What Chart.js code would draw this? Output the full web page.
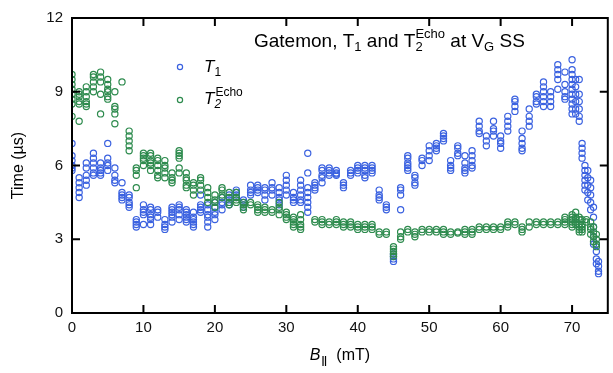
<!DOCTYPE html>
<html>
<head>
<meta charset="utf-8">
<script src="https://cdn.jsdelivr.net/npm/chart.js@4.4.1/dist/chart.umd.min.js"></script>
<style>
  html, body { margin: 0; padding: 0; background: #fff; }
  #wrap { width: 613px; height: 373px; }
</style>
</head>
<body>
<div id="wrap"><canvas id="chart" width="613" height="373"></canvas></div>
<script>
// B_parallel field steps (mT) and the repeated T1 readings at each step (us)
const t1Field = [0, 1, 2, 3, 4, 5, 6, 7, 8, 9, 10, 11, 12, 13, 14, 15, 16, 17, 18, 19,
  20, 21, 22, 23, 24, 25, 26, 27, 28, 29, 30, 31, 32, 33, 34, 35, 36, 37, 38, 39,
  40, 41, 42, 43, 44, 45, 46, 47, 48, 49, 50, 51, 52, 53, 54, 55, 56, 57, 58, 59,
  60, 61, 62, 63, 64, 65, 66, 67, 68, 69, 70, 70.5, 71, 71.4, 71.8, 72.2, 72.6, 73, 73.4, 73.7];
const t1Time = [
  [6.9, 6.4, 6.2, 6.0, 5.9, 5.8], [5.5, 5.3, 5.1, 4.9, 4.7], [6.1, 5.9, 5.6, 5.4, 5.2],
  [6.5, 6.3, 6.1, 5.9, 5.7, 5.6], [6.1, 5.9, 5.8, 5.7, 5.6], [6.9, 6.3, 6.1, 6.0, 5.8],
  [5.9, 5.6, 5.4, 5.3], [5.3, 4.9, 4.8, 4.7, 4.6], [4.8, 4.7, 4.5, 4.4, 4.3],
  [3.8, 3.7, 3.6, 3.5], [4.4, 4.2, 4.1, 4.0, 3.6], [4.3, 4.2, 4.0, 3.9, 3.8, 3.6],
  [4.2, 4.1, 3.9], [3.8, 3.6, 3.5, 3.4], [4.3, 4.2, 4.1, 4.0, 3.9, 3.7],
  [4.4, 4.3, 4.2, 4.0, 3.8], [4.2, 4.1, 4.0, 3.9, 3.8, 3.7], [4.1, 3.9, 3.8, 3.7, 3.6, 3.5],
  [4.8, 4.4, 4.3, 4.2, 4.1], [4.4, 4.2, 4.0, 3.9, 3.7, 3.5], [4.5, 4.3, 4.1, 4.0, 3.8],
  [4.7, 4.5, 4.4, 4.2], [4.8, 4.6, 4.5, 4.4], [5.0, 4.9, 4.8, 4.7],
  [4.6, 4.5, 4.4, 4.3], [5.2, 5.0, 4.9, 4.8], [5.2, 5.1, 5.0, 4.9],
  [5.1, 5.0, 4.8, 4.6], [5.3, 5.1, 5.0, 4.8], [5.1, 4.9, 4.7, 4.6, 4.4],
  [5.6, 5.4, 5.2, 5.0, 4.8], [4.9, 4.7, 4.6, 4.5], [5.4, 5.2, 5.0, 4.8, 4.6, 4.5],
  [6.5, 5.7, 5.1, 4.9, 4.7, 4.5, 4.3, 4.1], [5.3, 5.2, 5.1, 5.0], [5.9, 5.8, 5.6, 5.5, 5.3],
  [5.9, 5.8, 5.7, 5.6], [5.8, 5.7, 5.65, 5.6], [5.3, 5.2, 5.1],
  [5.8, 5.7, 5.6], [6.0, 5.9, 5.8, 5.7], [6.0, 5.9, 5.8, 5.6, 5.5],
  [6.0, 5.9, 5.8, 5.7], [5.0, 4.8, 4.7, 4.6], [4.4, 4.3, 4.2],
  [2.4, 2.3, 2.2, 2.1], [5.1, 5.0, 4.8, 4.2], [6.4, 6.3, 6.1, 6.0, 5.9, 5.8],
  [5.6, 5.5, 5.3, 5.2], [6.3, 6.2, 6.0], [6.8, 6.6, 6.4, 6.2],
  [6.9, 6.8, 6.7, 6.6], [7.3, 7.2, 7.1, 7.0], [6.2, 6.0, 5.9, 5.8],
  [6.8, 6.7, 6.5, 6.4], [6.4, 6.1, 5.9, 5.8, 5.7], [6.6, 6.4, 6.2, 6.0, 5.9],
  [7.8, 7.6, 7.4, 7.3], [7.2, 7.0, 6.8], [7.8, 7.5, 7.4, 7.2],
  [7.2, 7.0, 6.9, 6.7], [8.0, 7.8, 7.6, 7.4], [8.7, 8.6, 8.4, 8.2],
  [7.4, 7.1, 6.9, 6.7, 6.6], [8.3, 8.0, 7.8, 7.6], [8.9, 8.8, 8.6, 8.5],
  [9.4, 9.2, 9.0, 8.8, 8.6, 8.4], [9.0, 8.8, 8.6, 8.4], [10.1, 9.9, 9.7, 9.5, 9.1],
  [9.8, 9.3, 9.0, 8.8, 8.7], [10.3, 9.9, 9.7, 9.5, 9.3, 9.1, 8.9, 8.7, 8.5, 8.3, 8.1],
  [9.5, 9.2, 8.9, 8.6, 8.3, 8.1], [9.5, 8.9, 8.6, 8.3, 8.0, 7.8], [6.9, 6.7, 6.5, 6.3],
  [6.0, 5.8, 5.6, 5.4, 5.2, 5.0], [5.8, 5.5, 5.2, 4.9, 4.6], [5.4, 5.1, 4.8, 4.5, 4.2],
  [4.3, 3.9, 3.5, 3.1, 2.8], [2.8, 2.5, 2.2, 2.0], [2.1, 1.9, 1.7, 1.6]
];

// T2 echo readings (us)
const t2Field = [0, 1, 2, 3, 4, 5, 6, 7, 8, 9, 10, 11, 12, 13, 14, 15, 16, 17, 18, 19,
  20, 21, 22, 23, 24, 25, 26, 27, 28, 29, 30, 31, 32, 34, 35, 36, 37, 38, 39,
  40, 41, 42, 43, 44, 45, 46, 47, 48, 49, 50, 51, 52, 53, 54, 55, 56, 57, 58, 59,
  60, 61, 62, 63, 64, 65, 66, 67, 68, 69, 70, 70.5, 71, 71.4, 72, 72.6, 73, 73.4];
const t2Time = [
  [9.7, 9.5, 9.3, 9.1, 8.9, 8.7, 8.5, 8.0], [9.0, 8.9, 8.8, 8.6, 8.5, 7.8], [9.2, 9.0, 8.8, 8.6, 8.5, 8.4],
  [9.7, 9.6, 9.4, 9.2, 9.0], [9.8, 9.6, 9.4, 8.9, 8.1], [9.5, 9.3, 9.1, 9.0, 8.8, 8.7],
  [9.0, 8.4, 8.3, 8.1, 7.7], [9.4], [7.4, 7.2, 7.0, 6.8, 6.6],
  [5.9, 5.8, 5.6, 5.1], [6.5, 6.4, 6.3, 6.2, 6.0], [6.5, 6.4, 6.2, 6.1, 6.0, 5.8],
  [6.3, 6.2, 6.0, 5.8, 5.6, 5.5], [6.2, 6.0, 5.9, 5.7, 5.5], [5.7, 5.5, 5.4, 5.3],
  [6.6, 6.5, 6.4, 6.3, 5.9, 5.7], [5.7, 5.5, 5.4, 5.2, 5.1], [5.3, 5.2, 5.0, 4.8],
  [5.5, 5.4, 5.2, 5.0], [5.1, 4.9, 4.7, 4.5], [4.8, 4.6, 4.5, 4.3],
  [5.1, 5.0, 4.8, 4.7], [4.9, 4.7, 4.5, 4.4], [4.9, 4.7, 4.6, 4.5],
  [4.5, 4.4, 4.3, 4.2], [4.5, 4.4], [4.4, 4.3, 4.2, 4.1],
  [4.3, 4.2, 4.1], [4.2, 4.1], [4.5, 4.3, 4.2, 4.0],
  [4.1, 4.0, 3.9, 3.8], [3.9, 3.8, 3.7, 3.6, 3.5], [4.0, 3.8, 3.6, 3.5, 3.4],
  [3.8, 3.7], [3.8, 3.7, 3.6], [3.7, 3.6], [3.8, 3.7, 3.6], [3.7, 3.6, 3.5], [3.7, 3.6, 3.5],
  [3.6, 3.5, 3.4], [3.6, 3.5, 3.4], [3.6, 3.5, 3.4], [3.3, 3.2], [3.3, 3.2],
  [2.7, 2.6, 2.5, 2.4, 2.3], [3.3, 3.1, 3.0], [3.4, 3.3], [3.3, 3.2, 3.1], [3.4, 3.3],
  [3.4, 3.3], [3.4, 3.3], [3.4, 3.3, 3.2], [3.3, 3.2], [3.3, 3.25],
  [3.4, 3.3, 3.2], [3.4, 3.3, 3.2], [3.5, 3.4], [3.5, 3.4], [3.5, 3.4],
  [3.5, 3.4], [3.7, 3.6, 3.5], [3.7, 3.6], [3.5, 3.4, 3.3], [3.7, 3.5],
  [3.7, 3.6], [3.7, 3.6], [3.7, 3.6], [3.7, 3.6], [3.9, 3.8, 3.7, 3.6],
  [4.0, 3.9, 3.8, 3.7, 3.6, 3.5], [4.1, 3.9, 3.8, 3.7, 3.6], [3.9, 3.8, 3.6, 3.5, 3.4, 3.3],
  [3.8, 3.6, 3.5, 3.4, 3.3], [3.8, 3.7], [3.7, 3.5, 3.4, 3.2], [3.5, 3.3, 3.1, 2.9],
  [3.2, 3.0, 2.8, 2.7]
];

const xTicksMax = 75;
const yTicks = [0, 3, 6, 9, 12];

const BLUE = "#3b62e0";
const GREEN = "#2e8b4e";
const FONT = "'Liberation Sans', Arial, sans-serif";

function toPoints(fields, times) {
  const out = [];
  fields.forEach((b, i) => {
    (times[i] || []).forEach((t) => out.push({ x: b, y: t }));
  });
  return out;
}

// frame box with inward ticks on all four sides
const framePlugin = {
  id: "frame",
  afterDatasetsDraw(chart) {
    const { ctx, chartArea: a, scales } = chart;
    const len = 8;
    ctx.save();
    ctx.strokeStyle = "#000";
    ctx.lineWidth = 2;
    ctx.strokeRect(a.left, a.top, a.right - a.left, a.bottom - a.top);
    ctx.beginPath();
    scales.x.ticks.forEach((t) => {
      const px = scales.x.getPixelForValue(t.value);
      ctx.moveTo(px, a.bottom);
      ctx.lineTo(px, a.bottom - len);
      ctx.moveTo(px, a.top);
      ctx.lineTo(px, a.top + len);
    });
    scales.y.ticks.forEach((t) => {
      const py = scales.y.getPixelForValue(t.value);
      ctx.moveTo(a.left, py);
      ctx.lineTo(a.left + len, py);
      ctx.moveTo(a.right, py);
      ctx.lineTo(a.right - len, py);
    });
    ctx.stroke();
    ctx.restore();
  },
};

// title, legend and x-axis title (need sub/superscripts)
const textPlugin = {
  id: "texts",
  afterDraw(chart) {
    const { ctx, chartArea: a } = chart;
    ctx.save();
    ctx.fillStyle = "#000";
    ctx.textBaseline = "alphabetic";
    ctx.textAlign = "left";

    function put(str, x, y, font) {
      ctx.font = font;
      ctx.fillText(str, x, y);
      return x + ctx.measureText(str).width;
    }

    // title
    const big = "19px " + FONT;
    const small = "13px " + FONT;
    let x = 254, y = 47;
    x = put("Gatemon, T", x, y, big);
    x = put("1", x, y + 4, small);
    x = put(" and T", x, y, big);
    const xs = x;
    put("2", xs, y + 4, small);
    x = put("Echo", xs, y - 9, small);
    x = put(" at V", x, y, big);
    x = put("G", x, y + 4, small);
    put(" SS", x, y, big);

    // legend
    const it = "italic 17px " + FONT;
    const sm = "12px " + FONT;
    ctx.lineWidth = 1.2;
    ctx.strokeStyle = BLUE;
    ctx.beginPath();
    ctx.arc(180, 67, 2.6, 0, Math.PI * 2);
    ctx.stroke();
    ctx.strokeStyle = GREEN;
    ctx.beginPath();
    ctx.arc(180, 100, 2.6, 0, Math.PI * 2);
    ctx.stroke();
    x = put("T", 204, 72, it);
    put("1", x, 76, sm);
    x = put("T", 204, 104, it);
    put("2", x, 108, "italic 12px " + FONT);
    put("Echo", x + 1, 96, sm);

    // x axis title
    const cx = (a.left + a.right) / 2;
    ctx.font = "italic 16px " + FONT;
    const wB = ctx.measureText("B").width;
    ctx.font = "16px " + FONT;
    const wR = ctx.measureText("  (mT)").width;
    const total = wB + 7 + wR;
    let xx = cx - total / 2;
    const by = 360;
    xx = put("B", xx, by, "italic 16px " + FONT);
    ctx.fillRect(xx + 2, by - 4, 1.2, 10);
    ctx.fillRect(xx + 4.5, by - 4, 1.2, 10);
    put("  (mT)", xx + 7, by, "16px " + FONT);
    ctx.restore();
  },
};

new Chart(document.getElementById("chart"), {
  type: "scatter",
  data: {
    datasets: [
      {
        label: "T1",
        data: toPoints(t1Field, t1Time),
        borderColor: BLUE,
        backgroundColor: "rgba(0,0,0,0)",
        pointRadius: 3.1,
        borderWidth: 1.2,
        order: 1,
      },
      {
        label: "T2 Echo",
        data: toPoints(t2Field, t2Time),
        borderColor: GREEN,
        backgroundColor: "rgba(0,0,0,0)",
        pointRadius: 3.1,
        borderWidth: 1.2,
        order: 0,
      },
    ],
  },
  options: {
    responsive: false,
    animation: false,
    layout: { padding: { top: 10, right: 1, left: 0, bottom: 0 } },
    plugins: { legend: { display: false }, tooltip: { enabled: false } },
    scales: {
      x: {
        type: "linear",
        min: 0,
        max: xTicksMax,
        ticks: { stepSize: 10, padding: 6, color: "#111", font: { family: FONT, size: 15 } },
        afterBuildTicks: (s) => { s.ticks = s.ticks.filter((t) => t.value % 10 === 0); },
        afterFit: (s) => { s.height = 60; },
        grid: { display: false, drawTicks: false },
        border: { display: false },
      },
      y: {
        min: 0,
        max: 12,
        ticks: { stepSize: 3, padding: 9, color: "#111", font: { family: FONT, size: 15 } },
        afterBuildTicks: (s) => { s.ticks = yTicks.map((v) => ({ value: v })); },
        afterFit: (s) => { s.width = 72; },
        grid: { display: false, drawTicks: false },
        border: { display: false },
        title: { display: true, text: "Time (µs)", color: "#000", font: { family: FONT, size: 16 }, padding: { top: 9, bottom: 0 } },
      },
    },
  },
  plugins: [framePlugin, textPlugin],
});
</script>
</body>
</html>
